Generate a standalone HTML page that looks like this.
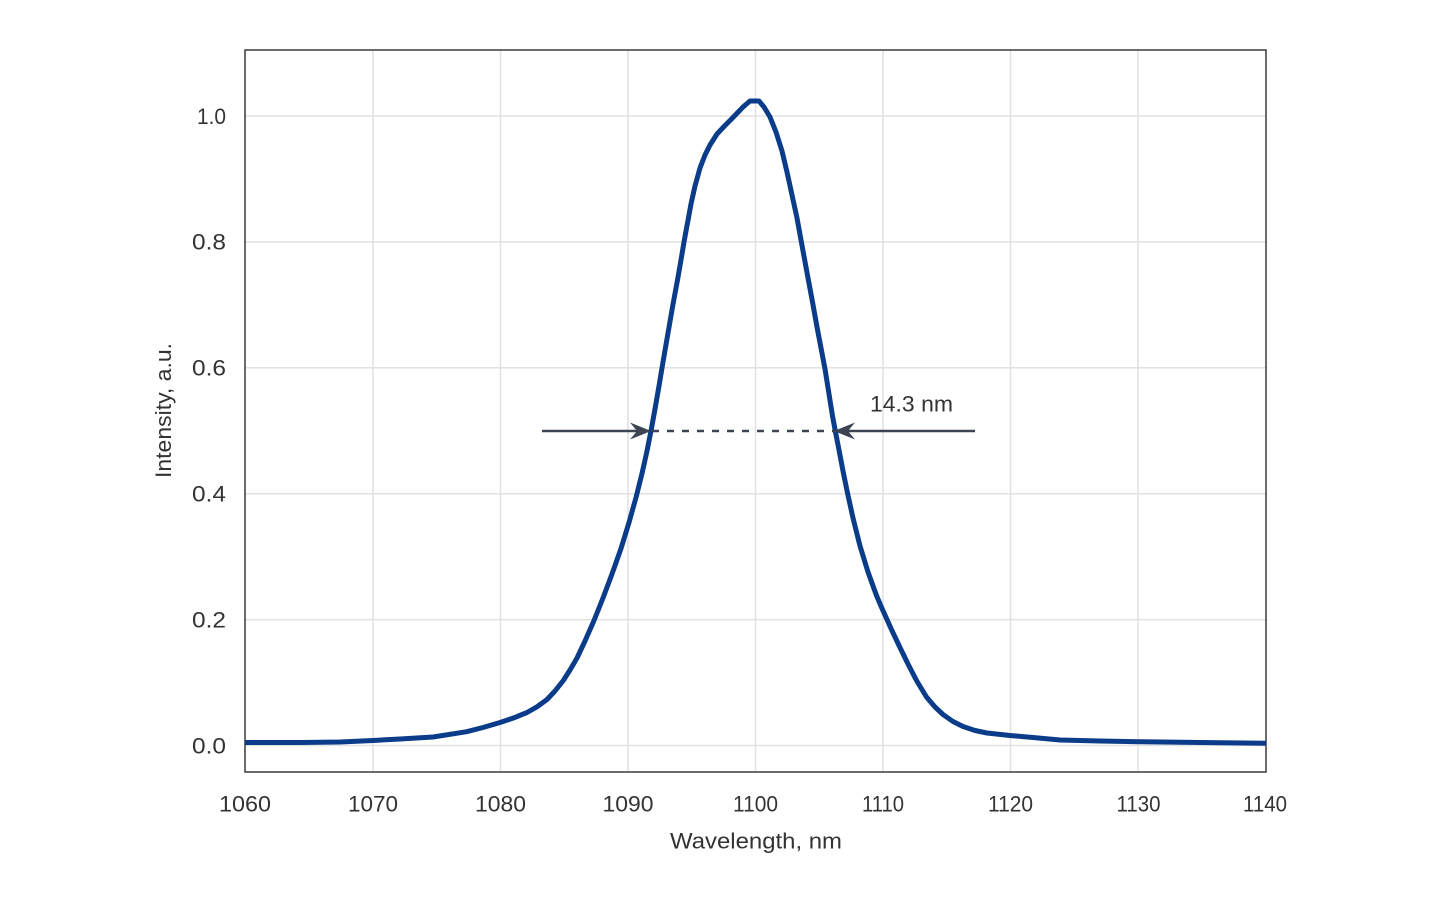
<!DOCTYPE html>
<html>
<head>
<meta charset="utf-8">
<style>
html,body{margin:0;padding:0;background:#ffffff;}
svg{display:block;}
text{font-family:"Liberation Sans",Arial,sans-serif;fill:#333333;}
</style>
</head>
<body>
<svg width="1440" height="900" viewBox="0 0 1440 900" xmlns="http://www.w3.org/2000/svg">
  <rect x="0" y="0" width="1440" height="900" fill="#ffffff"/>
  <!-- grid -->
  <g stroke="#e1e1e1" stroke-width="1.5" fill="none">
    <line x1="373" y1="50" x2="373" y2="772"/>
    <line x1="500.5" y1="50" x2="500.5" y2="772"/>
    <line x1="628" y1="50" x2="628" y2="772"/>
    <line x1="755.5" y1="50" x2="755.5" y2="772"/>
    <line x1="883" y1="50" x2="883" y2="772"/>
    <line x1="1010.5" y1="50" x2="1010.5" y2="772"/>
    <line x1="1138" y1="50" x2="1138" y2="772"/>
    <line x1="245" y1="745.5" x2="1266" y2="745.5"/>
    <line x1="245" y1="619.6" x2="1266" y2="619.6"/>
    <line x1="245" y1="493.7" x2="1266" y2="493.7"/>
    <line x1="245" y1="367.8" x2="1266" y2="367.8"/>
    <line x1="245" y1="241.9" x2="1266" y2="241.9"/>
    <line x1="245" y1="116" x2="1266" y2="116"/>
  </g>
  <!-- frame -->
  <rect x="245" y="50" width="1021" height="722" fill="none" stroke="#3a3a3a" stroke-width="1.5"/>

  <!-- curve -->
  <polyline fill="none" stroke="#0a3c8a" stroke-width="5" stroke-linejoin="round" stroke-linecap="butt"
    points="245,742.5 300,742.5 340,742 373,740.5 400,739 433,737 466.7,731.7 483,727.5 500,722.5 514,717.8 527,712.5 537,706.8 547,699.5 555,691 563.3,680.5 570,670 577,658 585,641 594,620.5 603,598 612,574 621,548.5 629,522.5 636,497.5 642,473.5 647,451 651,431 655,409 659,386 663,362 667.5,336 672.5,307 677.5,280 681,260 684,242 687.5,223 691,204 695,186 700,168 705,155 710,145 717,134 724,126.5 732,118.5 743,107 750,101 759,101 764,107 770,117 776,132 782,151 787,172 792,195 797,218 801,240 804.5,259 808,278 812.5,302 817,327 821,348 825,369 829,394 832.5,416 835.5,432 839,450 843,471 847.5,493 853,518 860,546 868,572 872.5,584.5 876.5,595.5 880.5,605 884.5,614 891,628.5 899.5,646.5 908,664 916.5,680.5 926.5,697 935,707 943,714.5 953,721.5 963,726.5 975,730.5 987,733 1010,735.5 1033,737.5 1060,740 1100,741 1140,741.7 1200,742.5 1266,743.3"/>

  <!-- FWHM annotation -->
  <g stroke="#3b4450" stroke-width="2.5" fill="none">
    <line x1="542" y1="431" x2="638" y2="431"/>
    <line x1="848" y1="431" x2="975" y2="431"/>
    <line x1="652" y1="431" x2="835" y2="431" stroke-dasharray="7,8"/>
  </g>
  <polygon points="651,431 630,422.5 637,431 630,439.5" fill="#3b4450"/>
  <polygon points="834,431 855,422.5 848,431 855,439.5" fill="#3b4450"/>
  <text x="870" y="411.5" font-size="22" textLength="83" lengthAdjust="spacingAndGlyphs">14.3 nm</text>

  <!-- y tick labels -->
  <g font-size="22" text-anchor="end">
    <text x="226" y="753.5" textLength="34" lengthAdjust="spacingAndGlyphs">0.0</text>
    <text x="226" y="627.5" textLength="34" lengthAdjust="spacingAndGlyphs">0.2</text>
    <text x="226" y="501.5" textLength="34" lengthAdjust="spacingAndGlyphs">0.4</text>
    <text x="226" y="375.5" textLength="34" lengthAdjust="spacingAndGlyphs">0.6</text>
    <text x="226" y="249.5" textLength="34" lengthAdjust="spacingAndGlyphs">0.8</text>
    <text x="226" y="124" textLength="29" lengthAdjust="spacingAndGlyphs">1.0</text>
  </g>

  <!-- x tick labels -->
  <g font-size="22" text-anchor="middle">
    <text x="245" y="811.5" textLength="52" lengthAdjust="spacingAndGlyphs">1060</text>
    <text x="373" y="811.5" textLength="50" lengthAdjust="spacingAndGlyphs">1070</text>
    <text x="500.5" y="811.5" textLength="51" lengthAdjust="spacingAndGlyphs">1080</text>
    <text x="628" y="811.5" textLength="51" lengthAdjust="spacingAndGlyphs">1090</text>
    <text x="755.5" y="811.5" textLength="45" lengthAdjust="spacingAndGlyphs">1100</text>
    <text x="883" y="811.5" textLength="42" lengthAdjust="spacingAndGlyphs">1110</text>
    <text x="1010.5" y="811.5" textLength="45" lengthAdjust="spacingAndGlyphs">1120</text>
    <text x="1138.5" y="811.5" textLength="44" lengthAdjust="spacingAndGlyphs">1130</text>
    <text x="1265" y="811.5" textLength="44" lengthAdjust="spacingAndGlyphs">1140</text>
  </g>

  <!-- axis titles -->
  <text x="756" y="848.5" font-size="22" text-anchor="middle" textLength="172" lengthAdjust="spacingAndGlyphs">Wavelength, nm</text>
  <text transform="translate(171,410.5) rotate(-90)" x="0" y="0" font-size="22" text-anchor="middle" textLength="135" lengthAdjust="spacingAndGlyphs">Intensity, a.u.</text>
</svg>
</body>
</html>
